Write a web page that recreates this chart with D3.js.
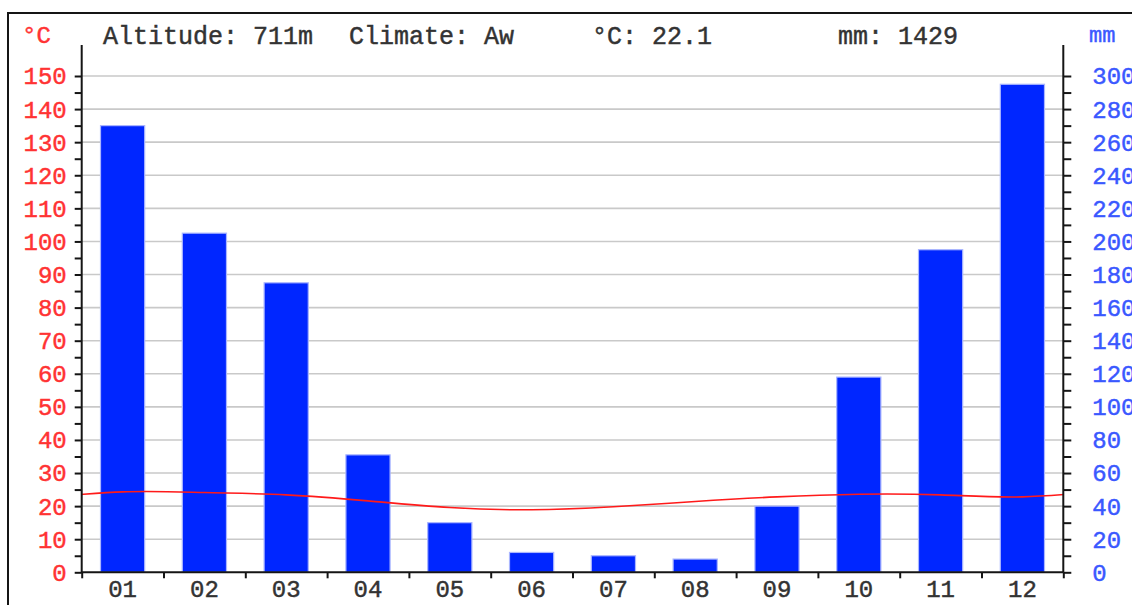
<!DOCTYPE html>
<html>
<head>
<meta charset="utf-8">
<script src="https://cdn.jsdelivr.net/npm/d3@7"></script>
<style>
  html, body { margin: 0; padding: 0; background: #fff; }
  svg { display: block; }
  text { font-family: "Liberation Mono", "DejaVu Sans Mono", monospace; stroke-width: 0.45px; }
</style>
</head>
<body>
<script>
// Monthly climate normals
const months = ["01", "02", "03", "04", "05", "06", "07", "08", "09", "10", "11", "12"];
const precipitation = [270, 205, 175, 71, 30, 12, 10, 8, 40, 118, 195, 295];   // mm
const temperature = [24.3, 24.1, 23.4, 21.6, 19.6, 18.9, 19.8, 21.4, 22.8, 23.6, 23.4, 22.8]; // °C
const tempTicks = d3.range(0, 151, 10);
const tempMinorTicks = d3.range(0, 151, 5);
const precipTicks = d3.range(0, 301, 20);
const precipMinorTicks = d3.range(0, 301, 10);
const altitude = "711m";
const climate = "Aw";

const W = 1132, H = 605;
const svg = d3.select("body").append("svg").attr("width", W).attr("height", H);

const plotLeft = 81.7, plotRight = 1063.3, plotTop = 76, plotBottom = 572.3;

const x = d3.scaleLinear().domain([0, 12]).range([plotLeft, plotRight]);
const xb = d3.scaleBand().domain(months).range([plotLeft, plotRight])
  .paddingInner(0.46).paddingOuter(0.23);
const yT = d3.scaleLinear().domain([0, 150]).range([plotBottom, plotTop]);
const yP = d3.scaleLinear().domain([0, 300]).range([plotBottom, plotTop]);

const red = "#ff3333", blue = "#3a58ff", ink = "#151515", grey = "#333";

// outer frame
svg.append("rect")
  .attr("x", 8).attr("y", 13).attr("width", 1300).attr("height", 800)
  .attr("fill", "none").attr("stroke", ink).attr("stroke-width", 2);

// horizontal grid
svg.append("g").selectAll("line")
  .data(tempTicks.filter(d => d > 0))
  .join("line")
  .attr("x1", plotLeft).attr("x2", plotRight)
  .attr("y1", d => yT(d)).attr("y2", d => yT(d))
  .attr("stroke", "#c9c9c9").attr("stroke-width", 1.6);

// precipitation bars
svg.append("g").selectAll("rect")
  .data(precipitation)
  .join("rect")
  .attr("x", (d, i) => xb(months[i]))
  .attr("width", xb.bandwidth())
  .attr("y", d => yP(d))
  .attr("height", d => yP(0) - yP(d))
  .attr("fill", "#0026ff")
  .attr("stroke", "#aab6ff").attr("stroke-width", 1.2);

// temperature curve, wrapped around the year so it runs to both edges
svg.append("clipPath").attr("id", "plot-clip")
  .append("rect").attr("x", plotLeft).attr("y", 0).attr("width", plotRight - plotLeft).attr("height", H);

const wrapped = d3.range(-2, 14).map(i => [x(i + 0.5), yT(temperature[(i + 12) % 12])]);
svg.append("path")
  .attr("clip-path", "url(#plot-clip)")
  .attr("d", d3.line().curve(d3.curveNatural)(wrapped))
  .attr("fill", "none")
  .attr("stroke", "#ff1a1a").attr("stroke-width", 1.6);

// left axis (°C)
const gL = svg.append("g").attr("transform", `translate(${plotLeft},0)`)
  .call(d3.axisLeft(yT).tickValues(tempMinorTicks).tickSize(7)
    .tickFormat(d => tempTicks.includes(d) ? d : ""));
gL.select(".domain").remove();
gL.selectAll("line").attr("stroke", ink).attr("stroke-width", 2);
gL.selectAll("text")
  .attr("x", -15).attr("dy", "0.33em")
  .attr("fill", red).attr("stroke", red).attr("font-size", 24)
  .style("font-family", "Liberation Mono");

// right axis (mm)
const gR = svg.append("g").attr("transform", `translate(${plotRight},0)`)
  .call(d3.axisRight(yP).tickValues(precipMinorTicks).tickSize(8)
    .tickFormat(d => precipTicks.includes(d) ? d : ""));
gR.select(".domain").remove();
gR.selectAll("line").attr("stroke", ink).attr("stroke-width", 2);
gR.selectAll("text")
  .attr("x", 29).attr("dy", "0.33em")
  .attr("fill", blue).attr("stroke", blue).attr("font-size", 24)
  .style("font-family", "Liberation Mono");

// bottom axis: ticks on month boundaries, labels on month centres
const gB = svg.append("g").attr("transform", `translate(0,${plotBottom})`)
  .call(d3.axisBottom(x).tickValues(d3.range(0, 13)).tickSize(6).tickFormat(""));
gB.select(".domain").remove();
gB.selectAll("line").attr("stroke", ink).attr("stroke-width", 2);

const gBL = svg.append("g").attr("transform", `translate(0,${plotBottom})`)
  .call(d3.axisBottom(xb).tickSize(0));
gBL.select(".domain").remove();
gBL.selectAll("text")
  .attr("y", 25).attr("dy", 0)
  .attr("fill", grey).attr("stroke", grey).attr("font-size", 24)
  .style("font-family", "Liberation Mono");

// axis lines
svg.append("path")
  .attr("d", `M${plotLeft},45V${plotBottom}H${plotRight}M${plotRight},45V${plotBottom}`)
  .attr("fill", "none").attr("stroke", ink).attr("stroke-width", 2);

// unit labels
svg.append("text").attr("x", 22).attr("y", 43)
  .attr("fill", red).attr("stroke", red).attr("font-size", 24).text("°C");
svg.append("text").attr("x", 1089).attr("y", 42)
  .attr("fill", blue).attr("stroke", blue).attr("font-size", 22).text("mm");

// header
const header = [
  { x: 103, t: `Altitude: ${altitude}` },
  { x: 349, t: `Climate: ${climate}` },
  { x: 592, t: `°C: ${d3.mean(temperature).toFixed(1)}` },
  { x: 838, t: `mm: ${d3.sum(precipitation)}` }
];
svg.append("g").selectAll("text")
  .data(header)
  .join("text")
  .attr("x", d => d.x).attr("y", 44)
  .attr("fill", grey).attr("stroke", grey).attr("font-size", 25)
  .text(d => d.t);
</script>
</body>
</html>
